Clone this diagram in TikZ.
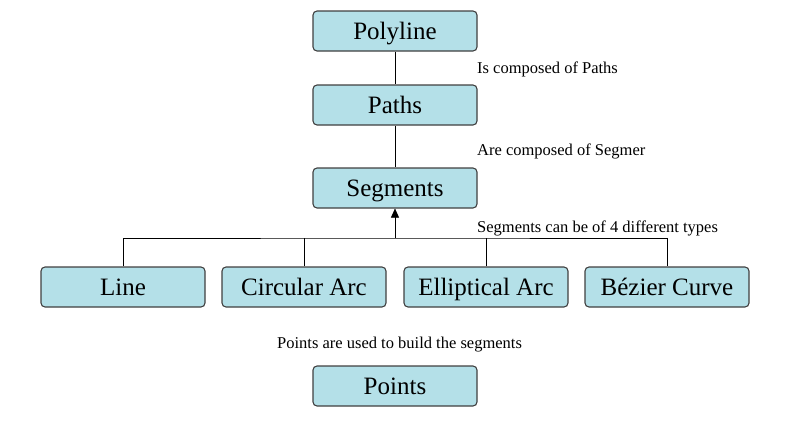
\documentclass[tikz,border=0pt]{standalone}
\usepackage{fontspec}
\setmainfont{Liberation Serif}
\usetikzlibrary{arrows.meta}
\definecolor{boxblue}{RGB}{180,224,232}
\begin{document}
\begin{tikzpicture}[x=1pt,y=-1pt]
\tikzstyle{every node}+=[inner sep=0pt]
\tikzstyle{part}=[draw=black!75,line width=1.1pt,fill=boxblue,rounded corners=4pt,minimum width=164pt,minimum height=40pt,text height=20pt,text depth=4pt,font=\fontsize{25}{27}\selectfont]
\tikzstyle{note}=[anchor=base west,font=\fontsize{16.5}{18}\selectfont]
\useasboundingbox (0,0) rectangle (793,439);
% boxes
\node [part] (polyline) at (395,31) {Polyline};
\node [part] (paths) at (395,105) {Paths};
\node [part] (segments) at (395,188) {Segments};
\node [part] (line) at (123,287) {Line};
\node [part] (circarc) at (304,287) {Circular Arc};
\node [part] (ellarc) at (486,287) {Elliptical Arc};
\node [part] (bezier) at (667,287) {Bézier Curve};
\node [part] (points) at (395,386) {Points};
% notes
\node [note] (composed) at (477,73) {Is composed of Paths};
\node [note] (aresegs) at (477,155) {Are composed of Segmer};
\node [note] (types) at (477,232) {Segments can be of 4 different types};
\node [note] (build) at (277,348) {Points are used to build the segments};
% connectors
\coordinate (bus) at (395,238);
\draw (polyline) -- (paths);
\draw (paths) -- (segments);
\draw [-{Triangle[length=9pt,width=8pt]}] (bus) -- (segments);
\draw (line.north) |- (bus) -| (bezier.north);
\draw (circarc.north) -- (circarc.north |- bus);
\draw (ellarc.north) -- (ellarc.north |- bus);
\end{tikzpicture}
\end{document}
